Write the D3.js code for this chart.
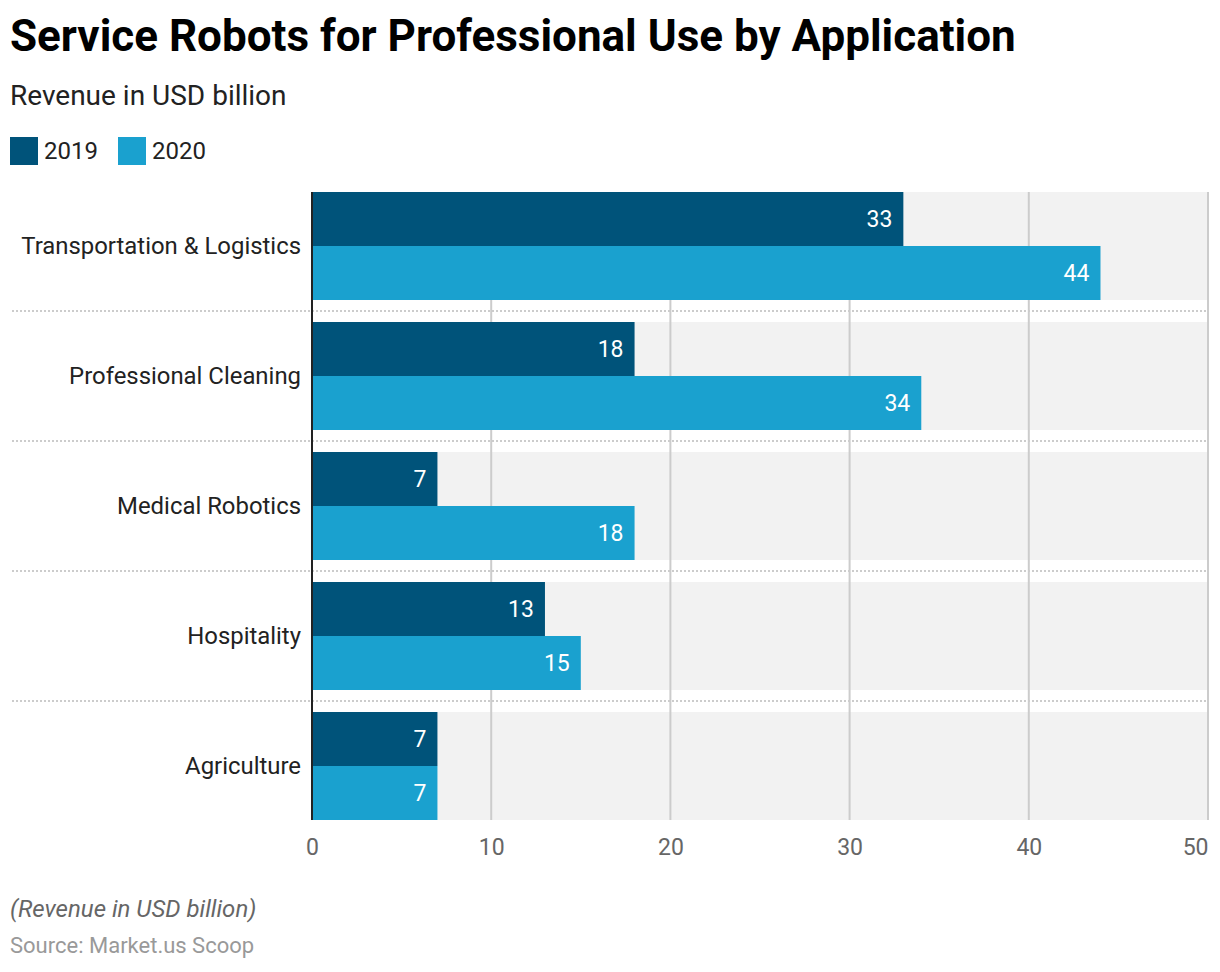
<!DOCTYPE html>
<html><head><meta charset="utf-8">
<script src="https://cdn.jsdelivr.net/npm/d3@7"></script>
<style>body{margin:0;background:#fff;font-family:Roboto,sans-serif;}</style>
</head><body>
<svg id="c" width="1220" height="972"></svg>
<script>
const categories = ["Transportation & Logistics","Professional Cleaning","Medical Robotics","Hospitality","Agriculture"];
const seriesNames = ["2019","2020"];
const values2019 = [33,18,7,13,7];
const values2020 = [44,34,18,15,7];
const ticks = [0,10,20,30,40,50];
const colors = ["#00537a","#1aa1cf"];

const svg = d3.select("#c");
const x = d3.scaleLinear().domain([0,50]).range([312,1208]);
const yb = d3.scaleBand().domain(categories).range([192,820]).paddingInner(22/130).paddingOuter(0);
const inner = d3.scaleBand().domain(seriesNames).range([0,yb.bandwidth()]);
const yBottom = 820;

svg.append("text").attr("x",10).attr("y",51).attr("font-size",44).attr("font-weight",700).attr("fill","#000")
  .text("Service Robots for Professional Use by Application");
svg.append("text").attr("x",10).attr("y",105).attr("font-size",28).attr("fill","#222").text("Revenue in USD billion");

const leg = svg.append("g");
let lx = 10;
seriesNames.forEach((s,i)=>{
  leg.append("rect").attr("x",lx).attr("y",137).attr("width",28).attr("height",28).attr("fill",colors[i]);
  leg.append("text").attr("x",lx+34).attr("y",159).attr("font-size",24).attr("fill","#222").text(s);
  lx += 108;
});

svg.append("g").selectAll("rect").data(categories).join("rect")
  .attr("x",x(0)).attr("width",x(50)-x(0)).attr("y",d=>yb(d)).attr("height",yb.bandwidth()).attr("fill","#f2f2f2");

svg.append("g").selectAll("line").data(ticks.slice(1)).join("line")
  .attr("x1",d=>x(d)).attr("x2",d=>x(d)).attr("y1",192).attr("y2",yBottom)
  .attr("stroke","#cccccc").attr("stroke-width",2);

svg.append("g").selectAll("line").data(categories.slice(1)).join("line")
  .attr("x1",12).attr("x2",1208).attr("y1",d=>yb(d)-11).attr("y2",d=>yb(d)-11)
  .attr("stroke","#cccccc").attr("stroke-width",2).attr("stroke-dasharray","2,2");

const data = [];
categories.forEach((c,i)=>{
  data.push({c,s:"2019",v:values2019[i],col:colors[0]});
  data.push({c,s:"2020",v:values2020[i],col:colors[1]});
});
svg.append("g").selectAll("rect").data(data).join("rect")
  .attr("x",x(0)).attr("y",d=>yb(d.c)+inner(d.s)).attr("height",inner.bandwidth())
  .attr("width",d=>x(d.v)-x(0)).attr("fill",d=>d.col);
svg.append("g").selectAll("text").data(data).join("text")
  .attr("x",d=>x(d.v)-11).attr("y",d=>yb(d.c)+inner(d.s)+inner.bandwidth()/2+8)
  .attr("text-anchor","end").attr("font-size",23).attr("fill","#fff").text(d=>d.v);

svg.append("g").selectAll("text").data(categories).join("text")
  .attr("x",301).attr("y",d=>yb(d)+yb.bandwidth()/2+8).attr("text-anchor","end")
  .attr("font-size",23.9).attr("fill","#222").text(d=>d);

svg.append("line").attr("x1",x(0)).attr("x2",x(0)).attr("y1",192).attr("y2",yBottom)
  .attr("stroke","#222").attr("stroke-width",2);

const ax = svg.append("g").attr("transform","translate(0,855)")
  .call(d3.axisBottom(x).tickValues(ticks).tickSize(0).tickPadding(0));
ax.select(".domain").remove();
ax.selectAll("text").attr("font-size",23).attr("fill","#666").attr("font-family","Roboto").attr("dy","0");
ax.selectAll(".tick").filter(d=>d===50).select("text").attr("text-anchor","end");

svg.append("text").attr("x",10).attr("y",917).attr("font-size",24).attr("font-style","italic").attr("fill","#666").text("(Revenue in USD billion)");
svg.append("text").attr("x",10).attr("y",953).attr("font-size",22).attr("fill","#999").text("Source: Market.us Scoop");
</script>
</body></html>
